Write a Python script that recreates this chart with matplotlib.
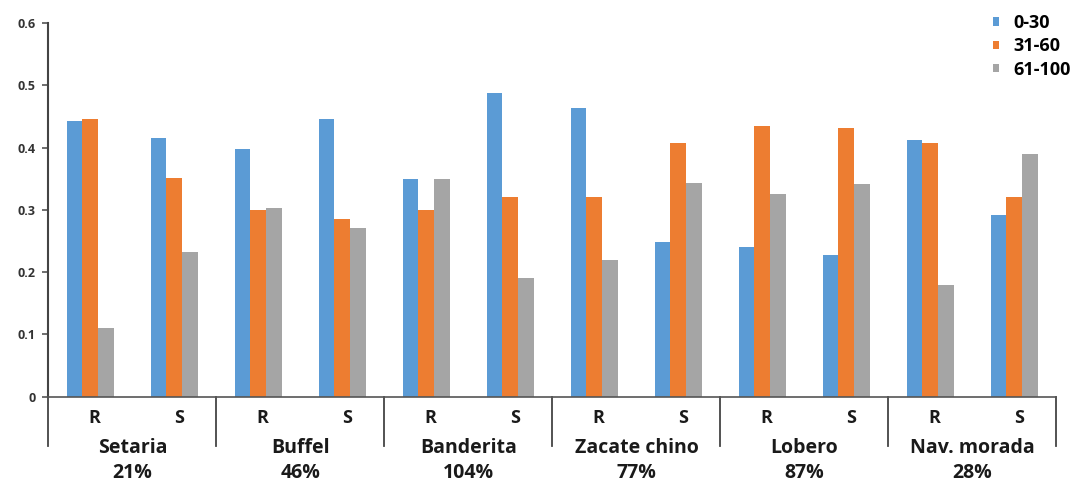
import numpy as np
import matplotlib.pyplot as plt

plt.rcParams['font.family'] = ['Open Sans', 'DejaVu Sans']

species = ['Setaria', 'Buffel', 'Banderita', 'Zacate chino', 'Lobero', 'Nav. morada']
percent = ['21%', '46%', '104%', '77%', '87%', '28%']
sub = ['R', 'S']
depths = ['0-30', '31-60', '61-100']

# one value per R / S column, species in order
d0_30 = [0.443, 0.416, 0.398, 0.446, 0.350, 0.487, 0.463, 0.248, 0.240, 0.228, 0.412, 0.292]
d31_60 = [0.446, 0.352, 0.300, 0.285, 0.300, 0.321, 0.320, 0.408, 0.435, 0.431, 0.408, 0.320]
d61_100 = [0.110, 0.233, 0.303, 0.271, 0.350, 0.191, 0.219, 0.343, 0.326, 0.342, 0.179, 0.390]

colors = ['#5B9BD5', '#ED7D31', '#A5A5A5']
txt = '#1a1a1a'

fig = plt.figure(figsize=(10.87, 4.83), dpi=100)
ax = fig.add_axes([0.0446, 0.179, 0.9273, 0.773])

n = len(d0_30)
x = np.arange(n) + 0.5
w = 0.19
for k, vals in enumerate([d0_30, d31_60, d61_100]):
    ax.bar(x + (k - 1) * w, vals, w, color=colors[k], label=depths[k])

ax.set_xlim(0, n)
ax.set_ylim(0, 0.6)
ax.set_yticks(np.arange(0, 0.61, 0.1))
ax.set_yticklabels(['0', '0.1', '0.2', '0.3', '0.4', '0.5', '0.6'],
                   fontsize=9, fontweight='bold', color='#333333')
ax.tick_params(axis='y', length=4, width=1.2, color='#555555', pad=5)
ax.set_xticks([])
for s in ['top', 'right']:
    ax.spines[s].set_visible(False)
ax.spines['left'].set_color('#444444')
ax.spines['left'].set_linewidth(1.5)
ax.spines['bottom'].set_color('#555555')
ax.spines['bottom'].set_linewidth(1.2)

tr = ax.get_xaxis_transform()
# group separators below the axis
for g in range(len(species) + 1):
    ax.plot([2 * g, 2 * g], [0, -0.133], transform=tr, color='#444444',
            lw=1.3, clip_on=False)

for i in range(n):
    ax.text(x[i] + 0.05, -0.058, sub[i % 2], transform=tr, ha='center', va='center',
            fontsize=13, fontweight='bold', color=txt)

for g, name in enumerate(species):
    ax.text(2 * g + 1, -0.137, name, transform=tr, ha='center', va='center',
            fontsize=14, fontweight='bold', color=txt)
    ax.text(2 * g + 1, -0.205, percent[g], transform=tr, ha='center', va='center',
            fontsize=14, fontweight='bold', color=txt)

fig.legend(loc='upper left', bbox_to_anchor=(0.905, 0.99), frameon=False,
           borderpad=0, handlelength=0.35, handleheight=0.35, handletextpad=0.8,
           labelspacing=0.3, prop={'size': 13, 'weight': 'bold'})

fig.savefig('out.png', dpi=100)
